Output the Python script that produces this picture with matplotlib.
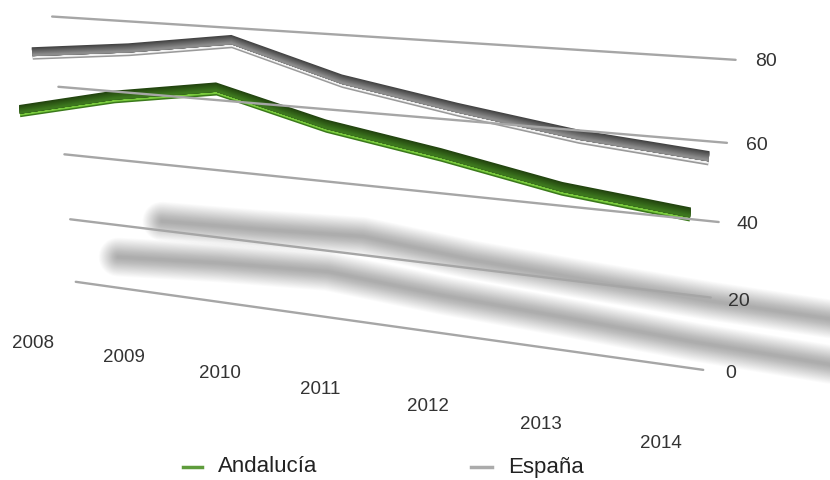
import numpy as np
import matplotlib.pyplot as plt
from matplotlib.patches import Polygon
from matplotlib.colors import to_rgb

years = ['2008', '2009', '2010', '2011', '2012', '2013', '2014']
andalucia = [51.4, 57.8, 62.3, 54.9, 50.1, 44.4, 41.2]
espana = [68.5, 71.5, 75.6, 67.3, 62.3, 58.0, 55.5]
ticks = [0, 20, 40, 60, 80]

# camera for the 3d look: (category, value/20, depth) -> pixels
CAM = np.array([[86.43041, -6.88183, -24.90125, 75.77232],
                [5.13373, -66.62655, -4.55763, 281.81186],
                [-0.0258, -0.01866, -0.015, 1.0]])


def proj(u, v, z):
    u, v, z = np.broadcast_arrays(np.asarray(u, float), np.asarray(v, float), np.asarray(z, float))
    h = CAM @ np.vstack([u.ravel(), v.ravel(), z.ravel(), np.ones(u.size)])
    return h[0] / h[2], h[1] / h[2]


def band(ax, u, v, z, top, bottom, color):
    x1, y1 = proj(u, v + top, z)
    x2, y2 = proj(u, v + bottom, z)
    pts = np.c_[np.r_[x1, x2[::-1]], np.r_[y1, y2[::-1]]]
    ax.add_patch(Polygon(pts, closed=True, facecolor=color, edgecolor='none'))


def ribbon(ax, values, z, dark, mid, light, edge):
    u = np.arange(len(values))
    v = np.array(values) / 20
    c0, c1 = np.array(to_rgb(dark)), np.array(to_rgb(mid))
    # each layer runs down to the bottom so the next one covers it without seams
    band(ax, u, v, z, -0.04, -0.085, edge)
    band(ax, u, v, z, -0.03, -0.064, light)
    steps = np.linspace(0.09, -0.02, 9)
    for i in range(8):
        t = i / 7
        band(ax, u, v, z, steps[i], -0.035, c0 * (1 - t) + c1 * t)


def shadow(ax, values, shift, stretch, base):
    u = shift + stretch * np.arange(len(values))
    v = base + 0.018 * np.array(values)
    x, y = proj(u, v, 0)
    for w in np.linspace(2, 28, 22):
        ax.plot(x, y, color='black', alpha=0.014, lw=w, solid_capstyle='round', solid_joinstyle='round')


fig = plt.figure(figsize=(8.3, 4.8), dpi=100)
ax = fig.add_axes([0, 0, 1, 1])
ax.set_xlim(0, 830)
ax.set_ylim(480, 0)
ax.axis('off')

shadow(ax, espana, 1.0, 1.0, -0.09)
shadow(ax, andalucia, 0.5, 1.08, -0.43)

for t in ticks:
    x, y = proj([0, 6], [t / 20] * 2, [0, 0])
    ax.plot(x, y, color='#a6a6a6', lw=1.7, solid_capstyle='round')
    tx, ty = proj(6.22, t / 20, 0)
    ax.text(tx[0], ty[0], str(t), ha='center', va='center', fontsize=14, color='#333333',
            family='Liberation Sans')

for i, yr in enumerate(years):
    tx, ty = proj(i, -1, 2)
    ax.text(tx[0], ty[0], yr, ha='center', va='center', fontsize=13.5, color='#333333',
            family='Liberation Sans')

ribbon(ax, espana, 0.9, '#444444', '#8c8c8c', '#f2f2f2', '#9a9a9a')
ribbon(ax, andalucia, 1.6, '#22440f', '#3d771e', '#7acb3e', '#3b7a1b')

# leyenda
ax.plot([183, 202], [467, 467], color='#5e9c3c', lw=2.5)
ax.text(218, 467, 'Andalucía', va='center', fontsize=16, color='#222222', family='Liberation Sans')
ax.plot([471, 492], [467, 467], color='#ababab', lw=2.5)
ax.text(508, 467, 'España', va='center', fontsize=16, color='#222222', family='Liberation Sans')

fig.savefig('out.png')
